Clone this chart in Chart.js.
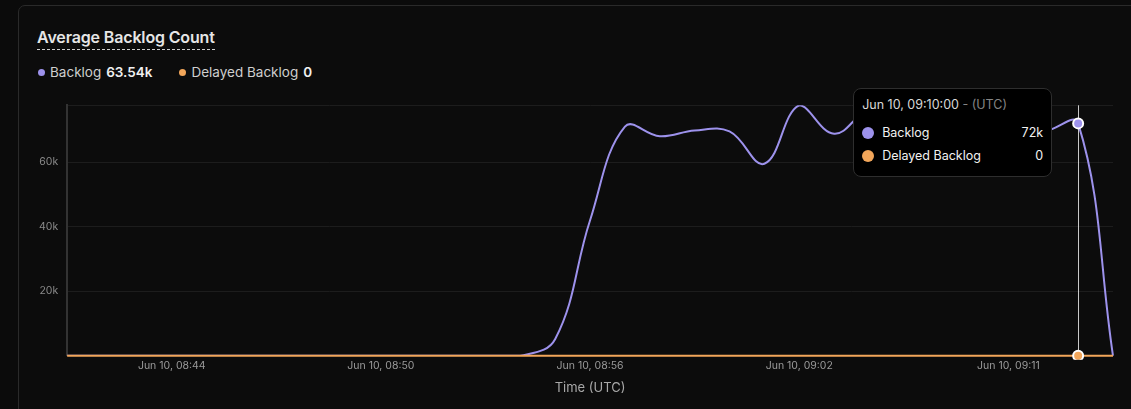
<!DOCTYPE html>
<html>
<head>
<meta charset="utf-8">
<script src="https://cdn.jsdelivr.net/npm/chart.js@4"></script>
<style>
  html, body { margin: 0; padding: 0; background: #0b0b0b; width: 1131px; height: 409px; overflow: hidden; font-family: Inter, sans-serif; }
  .card { position: absolute; left: 18px; top: 5px; width: 1140px; height: 420px; border: 1px solid #2a2a2a; border-radius: 7px; background: #0c0c0c; }
  .title { position: absolute; left: 37px; top: 27px; font-size: 16px; font-weight: 600; color: #e6e6e6; padding-bottom: 2px; border-bottom: 1px dashed #cfcfcf; letter-spacing: -0.15px; }
  .legend { position: absolute; left: 37px; top: 64px; font-size: 13.5px; color: #cfcfcf; display: flex; gap: 26px; }
  .legend span.item { display: flex; align-items: center; }
  .legend i { display: inline-block; width: 7px; height: 7px; border-radius: 50%; margin: 0 5px 0 1px; }
  .legend b { color: #f0f0f0; margin-left: 5px; font-weight: 600; }
  .wrap { position: absolute; left: 30px; top: 90px; width: 1090px; height: 310px; }
  #tip { position: absolute; background: #000; border: 1px solid #2e2e2e; border-radius: 8px; padding: 8px 8px 9px 8px; width: 181px; color: #f2f2f2; font-size: 12.5px; pointer-events: none; }
  #tip .t { color: #d8d8d8; margin-bottom: 9px; }
  #tip .t span { color: #858585; }
  #tip .row { display: flex; align-items: center; height: 23px; }
  #tip .row i { width: 12px; height: 12px; border-radius: 50%; margin-right: 8px; }
  #tip .row .v { margin-left: auto; }
</style>
</head>
<body>
<div class="card"></div>
<div class="title">Average Backlog Count</div>
<div class="legend">
  <span class="item"><i style="background:#9d92ec"></i>Backlog<b>63.54k</b></span>
  <span class="item"><i style="background:#f2a65a"></i>Delayed Backlog<b>0</b></span>
</div>
<div class="wrap"><canvas id="chartBacklog"></canvas></div>
<div id="tip"></div>
<script>
// Datos de la grafica
const times = [
  '08:41:00', '08:42:00', '08:43:00', '08:44:00', '08:45:00', '08:46:00', '08:47:00', '08:48:00',
  '08:49:00', '08:50:00', '08:51:00', '08:52:00', '08:53:00', '08:54:00', '08:55:00', '08:56:00',
  '08:57:00', '08:58:00', '08:59:00', '09:00:00', '09:01:00', '09:02:00', '09:03:00', '09:04:00',
  '09:05:00', '09:06:00', '09:07:00', '09:08:00', '09:09:00', '09:10:00', '09:11:00'
];
const backlog = [
  0, 0, 0, 0, 0, 0, 0, 0, 0, 0, 0, 0, 0, 0,
  5200, 42000, 71000, 68000, 69800, 69500, 59500, 77600, 68800,
  76000, 74000, 72000, 73000, 71000, 69500, 72000, 0
];
const delayedBacklog = [
  0, 0, 0, 0, 0, 0, 0, 0, 0, 0, 0, 0, 0, 0, 0, 0,
  0, 0, 0, 0, 0, 0, 0, 0, 0, 0, 0, 0, 0, 0, 0
];
// etiquetas del eje x (indice del punto -> texto)
const tickIndex = [3, 9, 15, 21, 27];
const tickLabels = ['Jun 10, 08:44', 'Jun 10, 08:50', 'Jun 10, 08:56', 'Jun 10, 09:02', 'Jun 10, 09:11'];
// marcas del eje y
const yTicks = [0, 20000, 40000, 60000];
const activeIndex = 29;

const purple = '#9d92ec';
const orange = '#f2a65a';

Chart.defaults.font.family = 'Inter, sans-serif';

const fmtK = v => v >= 1000 ? Math.round(v / 1000) + 'k' : String(v);

// linea vertical en el punto activo
const crosshair = {
  id: 'crosshair',
  beforeDatasetsDraw(chart) {
    const act = chart.getActiveElements();
    if (!act.length) return;
    const x = act[0].element.x;
    const { top, bottom } = chart.chartArea;
    const c = chart.ctx;
    c.save();
    c.strokeStyle = 'rgba(235,235,235,0.85)';
    c.lineWidth = 1;
    c.beginPath();
    c.moveTo(Math.round(x) + 0.5, top);
    c.lineTo(Math.round(x) + 0.5, bottom);
    c.stroke();
    c.restore();
  }
};

function externalTip(context) {
  const { chart, tooltip } = context;
  const el = document.getElementById('tip');
  if (tooltip.opacity === 0) { el.style.opacity = 0; return; }
  const pts = tooltip.dataPoints.slice().sort((a, b) => a.datasetIndex - b.datasetIndex);
  let html = '<div class="t">Jun 10, ' + times[pts[0].dataIndex] + ' <span>- (UTC)</span></div>';
  pts.forEach(p => {
    html += '<div class="row"><i style="background:' + p.dataset.borderColor + '"></i>' +
      p.dataset.label + '<span class="v">' + fmtK(p.raw) + '</span></div>';
  });
  el.innerHTML = html;
  el.style.opacity = 1;
  const wrap = chart.canvas.parentNode;
  const x = pts[0].element.x;
  el.style.left = (wrap.offsetLeft + x - 26 - el.offsetWidth) + 'px';
  el.style.top = (wrap.offsetTop + chart.chartArea.top - 17) + 'px';
}

const ctx = document.getElementById('chartBacklog').getContext('2d');

const chartBacklog = new Chart(ctx, {
  type: 'line',
  data: {
    labels: times,
    datasets: [{
      label: 'Backlog',
      data: backlog,
      borderColor: purple,
      backgroundColor: purple,
      borderWidth: 2,
      tension: 0.4,
      pointRadius: 0,
      pointHoverRadius: 5,
      pointHoverBorderWidth: 2,
      pointHoverBorderColor: '#ffffff',
      pointHoverBackgroundColor: purple,
      order: 2
    }, {
      label: 'Delayed Backlog',
      data: delayedBacklog,
      borderColor: orange,
      backgroundColor: orange,
      borderWidth: 2,
      tension: 0.4,
      clip: 4,
      pointRadius: 0,
      pointHoverRadius: 5,
      pointHoverBorderWidth: 2,
      pointHoverBorderColor: '#ffffff',
      pointHoverBackgroundColor: orange,
      order: 1
    }]
  },
  options: {
    responsive: true,
    maintainAspectRatio: false,
    animation: false,
    events: [],
    interaction: { mode: 'index', intersect: false },
    layout: { padding: { top: 2, right: 7, bottom: 0, left: 0 } },
    scales: {
      x: {
        grid: { display: false, drawTicks: false },
        border: { display: false },
        ticks: {
          autoSkip: false,
          maxRotation: 0,
          padding: 4,
          color: '#9a9a9a',
          font: { size: 10.5 },
          callback: (value, index) => {
            const k = tickIndex.indexOf(index);
            return k >= 0 ? tickLabels[k] : '';
          }
        },
        title: { display: true, text: 'Time (UTC)', color: '#a8a8a8', font: { size: 13 }, padding: { top: 4 } }
      },
      y: {
        min: 0,
        max: Math.max(...backlog),
        afterBuildTicks: scale => {
          scale.ticks = yTicks.concat([scale.max]).map(v => ({ value: v }));
        },
        grid: { color: '#1d1d1d', drawTicks: false },
        border: { display: true, color: '#333333', width: 2 },
        ticks: {
          padding: 9,
          color: '#8a8a8a',
          font: { size: 10.5 },
          callback: v => yTicks.includes(v) && v > 0 ? fmtK(v) : ''
        }
      }
    },
    plugins: {
      legend: { display: false },
      tooltip: { enabled: false, external: externalTip }
    }
  },
  plugins: [crosshair]
});

const act = [{ datasetIndex: 0, index: activeIndex }, { datasetIndex: 1, index: activeIndex }];
chartBacklog.setActiveElements(act);
chartBacklog.tooltip.setActiveElements(act, { x: 0, y: 0 });
chartBacklog.update();
</script>
</body>
</html>
